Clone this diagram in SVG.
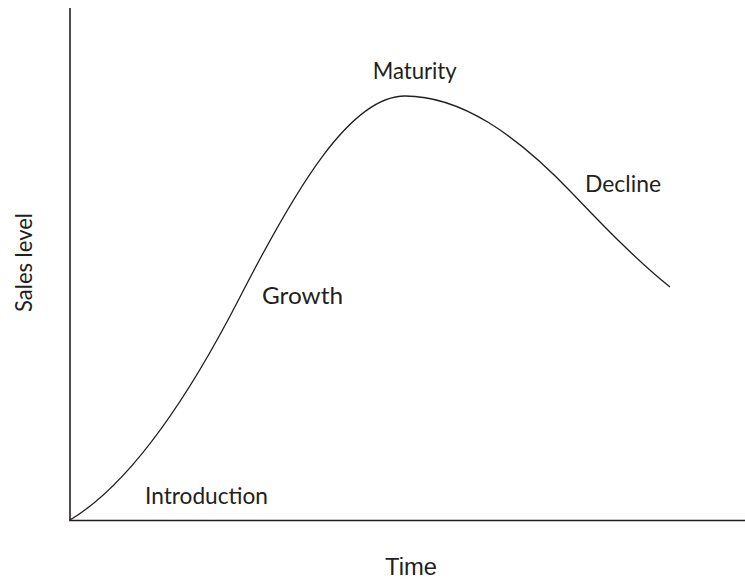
<svg xmlns="http://www.w3.org/2000/svg" width="745" height="582" viewBox="0 0 745 582">
<style>
.lbl{font-family:Lato,"Open Sans","Liberation Sans",sans-serif;font-size:23px;fill:#231f20}
.ax{font-family:"Liberation Sans",Arial,sans-serif;font-size:23px;fill:#231f20}
.axis{stroke:#231f20;stroke-width:1.6;fill:none}
.curve{stroke:#231f20;stroke-width:1.3;fill:none}
</style>
<rect width="745" height="582" fill="#ffffff"/>
<g id="connectors">
<path id="y-axis" class="axis" d="M70,8 V520.5"/>
<path id="x-axis" class="axis" d="M69.2,520.5 H745"/>
<path id="lifecycle-curve" class="curve" d="M70,520 C126.7,486 183.3,407.5 240,297 C295,189.75 350,96 405,96 C460.7,96 516.3,134.5 572,193 C604.7,227.3 637.3,260.9 670,287"/>
</g>
<g id="introduction"><text class="lbl" x="145" y="504" textLength="123" lengthAdjust="spacingAndGlyphs">Introduction</text></g>
<g id="growth"><text class="lbl" x="262" y="304" textLength="81" lengthAdjust="spacingAndGlyphs">Growth</text></g>
<g id="maturity"><text class="lbl" x="372.7" y="79.3" textLength="84" lengthAdjust="spacingAndGlyphs">Maturity</text></g>
<g id="decline"><text class="lbl" x="585" y="192" textLength="76" lengthAdjust="spacingAndGlyphs">Decline</text></g>
<g id="time-label"><text class="ax" x="385" y="575" textLength="52" lengthAdjust="spacingAndGlyphs">Time</text></g>
<g id="sales-label"><text class="lbl" transform="translate(32,312) rotate(-90)" x="0" y="0" textLength="99" lengthAdjust="spacingAndGlyphs">Sales level</text></g>
</svg>
